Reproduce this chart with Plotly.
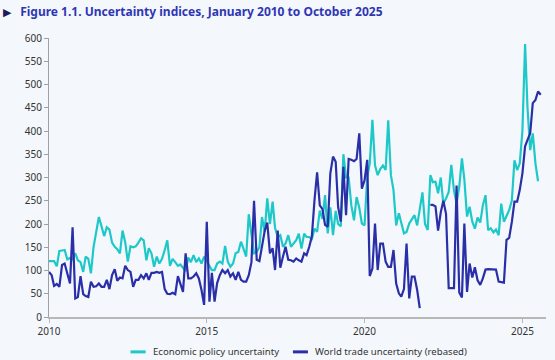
import pandas as pd
import plotly.graph_objects as go

# Monthly data, January 2010 onward
epu = [
    120, 120, 120, 109, 142, 143, 144, 124, 127, 124, 137, 122,   # 2010
    118, 97, 130, 125, 94, 151, 180, 215, 195, 174, 193, 188,     # 2011
    160, 151, 146, 137, 186, 161, 119, 152, 150, 152, 160, 169,   # 2012
    165, 122, 148, 137, 108, 130, 115, 125, 144, 165, 110, 125,   # 2013
    118, 110, 113, 105, 99, 128, 118, 133, 118, 126, 115, 130,    # 2014
    120, 110, 101, 101, 115, 119, 115, 153, 119, 108, 115, 137,   # 2015
    140, 162, 146, 130, 221, 180, 137, 140, 150, 215, 183, 255,   # 2016
    200, 248, 192, 172, 176, 151, 158, 176, 151, 158, 165, 179,   # 2017
    147, 179, 172, 172, 168, 190, 183, 229, 211, 262, 180, 236,   # 2018
    176, 228, 200, 195, 350, 300, 300, 240, 208, 258, 235, 201,   # 2019
    197, 301, 330, 424, 326, 305, 318, 326, 316, 423, 305, 273,   # 2020
    197, 223, 201, 180, 183, 201, 210, 219, 197, 230, 268, 200,   # 2021
    187, 305, 290, 291, 266, 300, 244, 255, 269, 327, 272, 244,   # 2022
    280, 341, 296, 216, 237, 205, 190, 214, 203, 240, 262, 187,   # 2023
    191, 182, 188, 176, 244, 205, 216, 230, 251, 337, 316, 330,   # 2024
    400, 587, 450, 359, 395, 330, 292,                            # 2025
]

wtu = [
    97, 90, 67, 71, 65, 112, 115, 90, 72, 193, 40, 43,            # 2010
    88, 49, 45, 43, 76, 65, 66, 72, 65, 65, 80, 60,               # 2011
    90, 103, 78, 85, 83, 110, 101, 97, 65, 80, 80, 90,            # 2012
    83, 94, 80, 95, 95, 97, 95, 97, 60, 50, 49, 52,               # 2013
    49, 88, 69, 54, 137, 83, 83, 87, 94, 83, 58, 26,              # 2014
    205, 33, 95, 33, 73, 90, 101, 94, 101, 87, 94, 80,            # 2015
    97, 80, 76, 76, 90, 118, 250, 123, 120, 156, 185, 203,        # 2016
    137, 148, 101, 186, 106, 130, 151, 123, 122, 119, 126, 122,   # 2017
    119, 137, 133, 151, 173, 252, 311, 240, 232, 198, 194, 309,   # 2018
    345, 334, 237, 205, 323, 219, 340, 338, 335, 340, 395, 276,   # 2019
    294, 338, 88, 104, 201, 101, 158, 158, 119, 108, 108, 144,    # 2020
    72, 51, 44, 60, 158, 40, 87, 87, 58, 19, None, None,          # 2021
    None, 241, 241, 238, 186, 225, 250, 222, 62, 62, 62, 283,     # 2022
    53, 42, 201, 54, 115, 85, 107, 79, 69, 83, 102, 103,          # 2023
    103, 102, 102, 76, 75, 74, 166, 170, 205, 248, 248, 273,      # 2024
    309, 367, 381, 395, 460, 467, 485, 478,                       # 2025
]

series_names = ["Economic policy uncertainty", "World trade uncertainty (rebased)"]
x_tick_labels = ["2010", "2015", "2020", "2025"]
x_tick_dates = ["2010-01-01", "2015-01-01", "2020-01-01", "2025-01-01"]
y_ticks = [0, 50, 100, 150, 200, 250, 300, 350, 400, 450, 500, 550, 600]

dates_epu = pd.date_range("2010-01-01", periods=len(epu), freq="MS")
dates_wtu = pd.date_range("2010-01-01", periods=len(wtu), freq="MS")

BG = "#f4f8fc"
TEAL = "#1fc8c8"
NAVY = "#2a2fa8"
FONT = "Noto Sans"
colors = [TEAL, NAVY]

fig = go.Figure()
fig.add_trace(go.Scatter(x=dates_epu, y=epu, mode="lines", name=series_names[0],
                         line=dict(color=TEAL, width=2.2), showlegend=False))
fig.add_trace(go.Scatter(x=dates_wtu, y=wtu, mode="lines", name=series_names[1],
                         line=dict(color=NAVY, width=2.2), connectgaps=False,
                         showlegend=False))

# Legend (short keys, as in the original) placed below the plot
legend_key_x = [(0.164, 0.1945), (0.4908, 0.521)]
legend_y = -0.125
for (x0, x1), name, col in zip(legend_key_x, series_names, colors):
    fig.add_shape(type="line", xref="paper", yref="paper", x0=x0, x1=x1,
                  y0=legend_y, y1=legend_y, line=dict(color=col, width=3))
    fig.add_annotation(xref="paper", yref="paper", x=x1 + 0.01, y=legend_y,
                       xanchor="left", yanchor="middle", text=name, showarrow=False,
                       font=dict(family=FONT, size=9.6, color="#333333"))

fig.update_layout(
    width=555, height=360,
    paper_bgcolor=BG, plot_bgcolor=BG,
    margin=dict(l=49, r=9, t=38, b=43),
    font=dict(family=FONT, size=10, color="#333333"),
    title=dict(
        text='<span style="color:#1b1a5a;font-size:11px">▶</span>&nbsp;&nbsp;&nbsp;'
             '<b>Figure 1.1. Uncertainty indices, January 2010 to October 2025</b>',
        x=0.005, xanchor="left", y=0.967, yanchor="middle",
        font=dict(family=FONT, size=12, color="#2e36b4"),
    ),
    showlegend=False,
    xaxis=dict(
        range=["2010-01-01", "2025-10-01"],
        tickmode="array", tickvals=x_tick_dates, ticktext=x_tick_labels,
        showgrid=False, zeroline=False,
        showline=True, linecolor="#b8b8b8", linewidth=2,
        ticks="outside", ticklen=4, tickcolor="#b8b8b8", tickwidth=1,
        tickfont=dict(size=10, color="#333333"),
    ),
    yaxis=dict(
        range=[0, 600],
        tickmode="array", tickvals=y_ticks,
        showgrid=False, zeroline=False,
        showline=True, linecolor="#a0a0a0", linewidth=1,
        ticks="outside", ticklen=4, tickcolor="#a0a0a0", tickwidth=1,
        tickfont=dict(size=10, color="#333333"),
    ),
)

fig.write_html(
    "out.html",
    config={"displayModeBar": False},
    post_script="document.body.style.margin='0';document.body.style.overflow='hidden';",
)
